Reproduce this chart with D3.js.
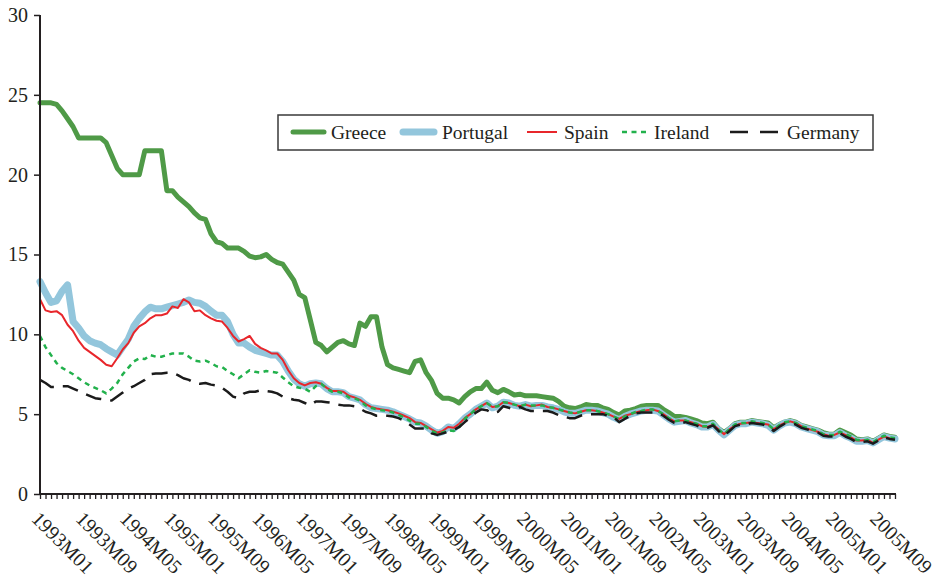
<script src="https://d3js.org/d3.v7.min.js"></script>
<style>
    body { margin: 0; background: #fff; }
    .line { fill: none; stroke-linejoin: round; }
</style>
<svg id="chart" width="936" height="583"></svg>
<script>
    // months 1993M01 .. 2005M12
    const years = d3.range(1993, 2006);
    const months = [];
    years.forEach(y => d3.range(1, 13).forEach(m => months.push(y + "M" + String(m).padStart(2, "0"))));
    const yTicks = [0, 5, 10, 15, 20, 25, 30];

    const greece = [
        24.5, 24.5, 24.5, 24.4, 24.0, 23.5, 23.0, 22.3, 22.3, 22.3, 22.3, 22.3,
        22.0, 21.2, 20.4, 20.0, 20.0, 20.0, 20.0, 21.5, 21.5, 21.5, 21.5, 19.0,
        19.0, 18.6, 18.3, 18.0, 17.6, 17.3, 17.2, 16.3, 15.8, 15.7, 15.4, 15.4,
        15.4, 15.2, 14.9, 14.8, 14.85, 15.0, 14.7, 14.5, 14.4, 13.9, 13.4, 12.5,
        12.3, 10.9, 9.5, 9.3, 8.9, 9.2, 9.5, 9.6, 9.4, 9.3, 10.7, 10.5,
        11.1, 11.1, 9.2, 8.1, 7.9, 7.8, 7.7, 7.6, 8.3, 8.4, 7.6, 7.1,
        6.3, 6.0, 6.0, 5.9, 5.7, 6.1, 6.4, 6.6, 6.6, 7.0, 6.5, 6.35,
        6.55, 6.4, 6.2, 6.25, 6.15, 6.15, 6.15, 6.1, 6.05, 6.0, 5.8, 5.5,
        5.4, 5.35, 5.45, 5.6, 5.55, 5.55, 5.4, 5.3, 5.1, 4.95, 5.2, 5.25,
        5.35, 5.5, 5.55, 5.55, 5.55, 5.3, 5.1, 4.85, 4.85, 4.8, 4.7, 4.6,
        4.45, 4.4, 4.5, 4.1, 3.85, 4.1, 4.4, 4.5, 4.5, 4.6, 4.55, 4.5,
        4.45, 4.15, 4.35, 4.5, 4.6, 4.5, 4.3, 4.2, 4.1, 4.0, 3.85, 3.75,
        3.75, 4.0, 3.85, 3.7, 3.45, 3.4, 3.45, 3.3, 3.5, 3.7, 3.6, 3.55
    ];
    const portugal = [
        13.3, 12.6, 12.0, 12.1, 12.7, 13.1, 10.8, 10.4, 9.9, 9.6, 9.45, 9.35,
        9.1, 8.9, 8.7, 9.2, 9.7, 10.5, 11.0, 11.4, 11.7, 11.6, 11.6, 11.7,
        11.8, 11.9, 12.0, 12.15, 12.0, 11.95, 11.75, 11.45, 11.2, 11.2, 10.8, 10.0,
        9.45, 9.45, 9.2, 9.0, 8.9, 8.8, 8.7, 8.7, 8.3, 7.7, 7.2, 6.9,
        6.75, 6.9, 6.95, 6.9, 6.6, 6.4, 6.4, 6.35, 6.1, 6.0, 5.9, 5.6,
        5.4, 5.35, 5.3, 5.25, 5.15, 5.0, 4.85, 4.7, 4.5, 4.45, 4.25, 4.0,
        3.8, 3.9, 4.2, 4.1, 4.4, 4.75, 5.0, 5.3, 5.5, 5.7, 5.4, 5.5,
        5.75, 5.7, 5.55, 5.5, 5.6, 5.5, 5.55, 5.55, 5.45, 5.4, 5.3, 5.15,
        5.05, 5.05, 5.15, 5.25, 5.25, 5.2, 5.1, 5.0, 4.8, 4.65, 4.85, 5.0,
        5.1, 5.2, 5.25, 5.25, 5.2, 4.95, 4.7, 4.5, 4.55, 4.6, 4.45, 4.35,
        4.2, 4.2, 4.35, 4.0, 3.7, 4.0, 4.3, 4.4, 4.4, 4.5, 4.45, 4.4,
        4.3, 4.0, 4.25, 4.45, 4.5, 4.4, 4.2, 4.1, 4.0, 3.9, 3.7, 3.65,
        3.65, 3.85, 3.65, 3.5, 3.3, 3.3, 3.35, 3.2, 3.4, 3.6, 3.5, 3.45
    ];
    const spain = [
        12.2, 11.5, 11.4, 11.45, 11.2, 10.6, 10.2, 9.6, 9.15, 8.9, 8.65, 8.4,
        8.1, 8.0, 8.5, 9.05, 9.45, 10.1, 10.5, 10.7, 11.0, 11.2, 11.2, 11.3,
        11.75, 11.65, 12.2, 12.0, 11.45, 11.5, 11.2, 11.0, 10.85, 10.8, 10.4, 9.9,
        9.55, 9.7, 9.9, 9.4, 9.15, 9.0, 8.8, 8.8, 8.4, 7.75, 7.25, 6.95,
        6.8, 6.95, 7.0, 6.9, 6.65, 6.45, 6.45, 6.4, 6.15, 6.05, 5.9, 5.65,
        5.45, 5.35, 5.3, 5.25, 5.15, 5.05, 4.9, 4.75, 4.5, 4.45, 4.25, 4.05,
        3.85, 3.95, 4.2, 4.15, 4.4, 4.75, 5.0, 5.3, 5.5, 5.7, 5.45, 5.5,
        5.75, 5.7, 5.6, 5.5, 5.6, 5.5, 5.55, 5.6, 5.45, 5.4, 5.3, 5.2,
        5.1, 5.05, 5.15, 5.25, 5.25, 5.2, 5.1, 5.0, 4.85, 4.7, 4.9, 5.0,
        5.1, 5.2, 5.25, 5.3, 5.2, 5.0, 4.75, 4.55, 4.6, 4.6, 4.5, 4.4,
        4.25, 4.2, 4.35, 4.05, 3.75, 4.05, 4.3, 4.4, 4.45, 4.5, 4.45, 4.4,
        4.35, 4.05, 4.3, 4.45, 4.55, 4.45, 4.25, 4.1, 4.0, 3.9, 3.75, 3.65,
        3.7, 3.85, 3.7, 3.55, 3.35, 3.35, 3.4, 3.2, 3.4, 3.6, 3.5, 3.45
    ];
    const ireland = [
        9.9, 9.2, 8.7, 8.2, 7.9, 7.7, 7.5, 7.25, 7.0, 6.8, 6.65, 6.5,
        6.3, 6.6, 6.95, 7.5, 7.9, 8.3, 8.5, 8.45, 8.7, 8.6, 8.6, 8.7,
        8.8, 8.8, 8.8, 8.6, 8.35, 8.3, 8.35, 8.2, 8.0, 7.95, 7.7, 7.5,
        7.25, 7.5, 7.75, 7.65, 7.6, 7.7, 7.65, 7.6, 7.3, 7.0, 6.75, 6.65,
        6.6, 6.4, 6.75, 6.9, 6.6, 6.4, 6.4, 6.3, 6.05, 6.0, 5.85, 5.55,
        5.4, 5.3, 5.25, 5.2, 5.1, 4.95, 4.8, 4.6, 4.4, 4.4, 4.2, 3.95,
        3.8, 3.85, 4.0, 3.95, 4.2, 4.7, 5.0, 5.3, 5.5, 5.7, 5.45, 5.5,
        5.75, 5.7, 5.6, 5.5, 5.6, 5.55, 5.55, 5.55, 5.45, 5.4, 5.3, 5.2,
        5.1, 5.05, 5.15, 5.25, 5.25, 5.2, 5.1, 5.0, 4.85, 4.7, 4.85, 5.0,
        5.15, 5.2, 5.3, 5.3, 5.2, 5.0, 4.75, 4.55, 4.6, 4.6, 4.5, 4.4,
        4.25, 4.25, 4.4, 4.05, 3.75, 4.05, 4.35, 4.45, 4.45, 4.55, 4.5, 4.45,
        4.35, 4.05, 4.3, 4.5, 4.55, 4.45, 4.25, 4.15, 4.05, 3.95, 3.75, 3.7,
        3.7, 3.9, 3.75, 3.6, 3.4, 3.35, 3.4, 3.25, 3.45, 3.65, 3.55, 3.5
    ];
    const germany = [
        7.15, 6.95, 6.7, 6.7, 6.75, 6.75, 6.6, 6.45, 6.3, 6.15, 6.0, 5.95,
        5.9, 5.85, 6.1, 6.35, 6.6, 6.75, 6.95, 7.15, 7.5, 7.55, 7.55, 7.6,
        7.6, 7.45, 7.25, 7.15, 6.95, 6.9, 6.95, 6.85, 6.8, 6.65, 6.4, 6.1,
        6.0, 6.3, 6.4, 6.4, 6.5, 6.45, 6.4, 6.3, 6.1, 6.0, 5.9, 5.85,
        5.7, 5.55, 5.8, 5.8, 5.75, 5.7, 5.6, 5.55, 5.55, 5.5, 5.35, 5.15,
        5.05, 4.9, 4.9, 4.9, 4.85, 4.75, 4.6, 4.35, 4.1, 4.1, 4.1, 3.8,
        3.7, 3.8, 3.9, 4.0, 4.2, 4.5, 4.8, 5.1, 5.3, 5.25, 5.05, 5.15,
        5.5, 5.4, 5.3, 5.45, 5.3, 5.2, 5.2, 5.2, 5.2, 5.1, 4.95, 4.85,
        4.75, 4.75, 4.9, 5.0, 5.0, 5.0, 5.0, 4.9, 4.8, 4.5, 4.7, 4.9,
        5.05, 5.1, 5.1, 5.1, 5.1, 4.9, 4.65, 4.45, 4.4, 4.5, 4.4, 4.3,
        4.15, 4.15, 4.3, 3.95, 3.65, 3.95, 4.25, 4.35, 4.35, 4.45, 4.4, 4.35,
        4.25, 3.95, 4.2, 4.4, 4.45, 4.35, 4.15, 4.05, 3.95, 3.85, 3.65, 3.6,
        3.6, 3.8, 3.6, 3.45, 3.25, 3.25, 3.3, 3.15, 3.35, 3.55, 3.45, 3.4
    ];

    const seriesNames = ["Greece", "Portugal", "Spain", "Ireland", "Germany"];
    const seriesValues = [greece, portugal, spain, ireland, germany];

    // styles per series
    const styles = {
        Greece:   { color: "#4f9a47", width: 5,   dash: null,    cap: "round" },
        Portugal: { color: "#93c6dc", width: 7,   dash: null,    cap: "round" },
        Spain:    { color: "#e8262b", width: 2,   dash: null,    cap: "butt" },
        Ireland:  { color: "#22b14c", width: 2.5, dash: "5,4.5", cap: "butt" },
        Germany:  { color: "#1b1b1b", width: 2.5, dash: "16,9",  cap: "butt" }
    };
    // legend item positions (sample start/end, text x)
    const legendPos = [[293, 324, 331], [403, 434, 442], [527, 557, 564], [622, 650, 654], [730, 778, 787]];
    const fontFam = "Liberation Serif";

    const svg = d3.select("#chart");
    const x = d3.scalePoint().domain(months).range([40, 895]);
    const y = d3.scaleLinear().domain([0, 30]).range([494, 15]);

    // lines
    const lineGen = d3.line()
        .x((d, i) => x(months[i]))
        .y(d => y(d));
    seriesNames.forEach((name, k) => {
        const s = styles[name];
        svg.append("path")
            .attr("class", "line")
            .attr("d", lineGen(seriesValues[k]))
            .attr("stroke", s.color)
            .attr("stroke-width", s.width)
            .attr("stroke-linecap", s.cap)
            .attr("stroke-dasharray", s.dash);
    });

    // y axis
    const yAxis = svg.append("g")
        .attr("transform", "translate(40,0)")
        .call(d3.axisLeft(y).tickValues(yTicks).tickSize(6).tickPadding(6).tickFormat(d3.format("d")));
    yAxis.select(".domain").attr("stroke", "#231f20").attr("stroke-width", 2).attr("d", "M0,15V494");
    yAxis.selectAll(".tick line").attr("stroke", "#231f20").attr("stroke-width", 1.5);

    // x axis
    const xAxis = svg.append("g")
        .attr("transform", "translate(0,494)")
        .call(d3.axisBottom(x).tickSize(5).tickFormat((d, i) => i % 8 === 0 ? d : ""));
    xAxis.select(".domain").attr("stroke", "#231f20").attr("stroke-width", 2).attr("d", "M39,0H896");
    xAxis.selectAll(".tick line").attr("stroke", "#231f20").attr("stroke-width", 1.3);
    xAxis.selectAll("text")
        .attr("x", 0).attr("y", 0).attr("dy", 0)
        .attr("text-anchor", "start")
        .attr("transform", "translate(-10,26) rotate(45)");

    [yAxis, xAxis].forEach(a => {
        a.attr("font-family", fontFam).attr("font-size", 20);
        a.selectAll("text")
            .attr("fill", "#231f20")
            .style("font-family", fontFam)
            .style("font-size", "20px");
    });

    // legend
    const legend = svg.append("g");
    legend.append("rect")
        .attr("x", 278).attr("y", 115).attr("width", 595).attr("height", 35)
        .attr("fill", "#fff").attr("stroke", "#3a3a3a").attr("stroke-width", 1.5);
    seriesNames.forEach((name, k) => {
        const s = styles[name];
        const p = legendPos[k];
        legend.append("line")
            .attr("x1", p[0]).attr("x2", p[1]).attr("y1", 132).attr("y2", 132)
            .attr("stroke", s.color)
            .attr("stroke-width", s.width)
            .attr("stroke-linecap", s.cap)
            .attr("stroke-dasharray", s.dash === "16,9" ? "18,12" : s.dash);
        legend.append("text")
            .attr("x", p[2]).attr("y", 138.5)
            .attr("fill", "#231f20")
            .style("font-family", fontFam)
            .style("font-size", "19.5px")
            .text(name);
    });
</script>
